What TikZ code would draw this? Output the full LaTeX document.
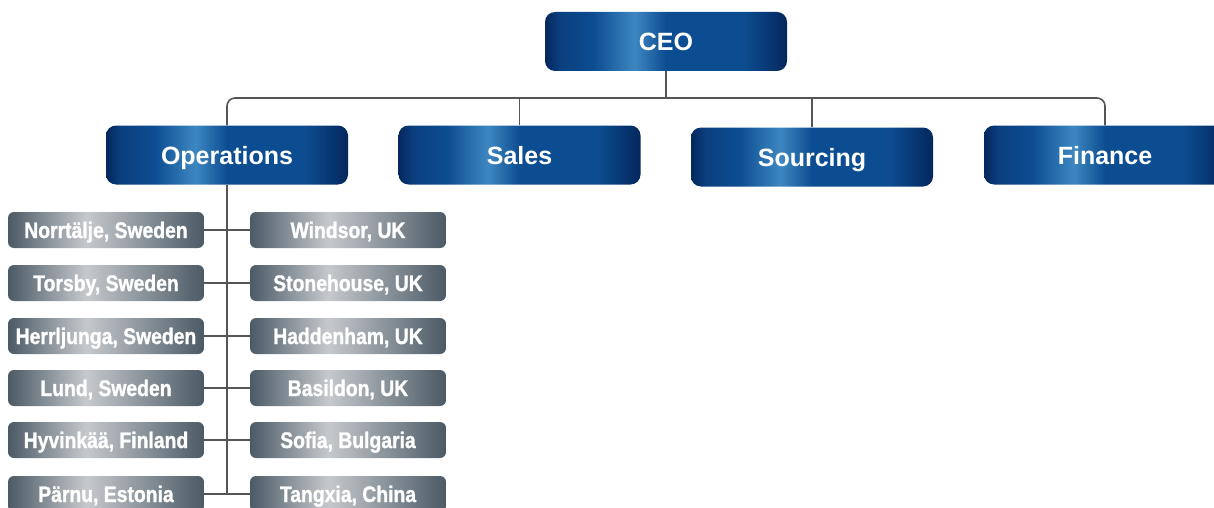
\documentclass[tikz,border=0pt]{standalone}
\usepackage{fontspec}
\setmainfont{Liberation Sans}
\newfontfamily\narrowfont[FakeStretch=0.86, FakeBold=1.2]{Liberation Sans Bold}
\usepackage{tikz}
\usetikzlibrary{positioning}

\definecolor{navyA}{HTML}{04275D}
\definecolor{navyB}{HTML}{0B3F7F}
\definecolor{navyC}{HTML}{3D87C1}
\definecolor{navyD}{HTML}{0C4D91}
\definecolor{slateA}{HTML}{4B5A66}
\definecolor{slateB}{HTML}{C6C9CC}
\definecolor{wire}{HTML}{555555}

% the box is mapped on 25bp..75bp of the shading
\pgfdeclarehorizontalshading{blueband}{100bp}{color(0bp)=(navyA); color(25bp)=(navyA);
  color(28bp)=(navyB); color(35bp)=(navyD); color(43.5bp)=(navyC); color(50bp)=(navyD);
  color(66bp)=(navyD); color(75bp)=(navyA); color(100bp)=(navyA)}
\pgfdeclarehorizontalshading{greyband}{100bp}{color(0bp)=(slateA); color(25bp)=(slateA);
  color(45bp)=(slateB); color(75bp)=(slateA); color(100bp)=(slateA)}

\begin{document}
\begin{tikzpicture}
  [x=1pt, y=-1pt,
   dept/.style={rectangle, rounded corners=10pt, shading=blueband, minimum width=242pt,
     minimum height=59pt, inner sep=0pt, text height=18pt, text depth=0pt, text=white,
     font=\bfseries\fontsize{25}{25}\selectfont},
   site/.style={rectangle, rounded corners=6pt, shading=greyband, minimum width=196pt,
     minimum height=36pt, inner sep=0pt, text height=16pt, text depth=0pt, text=white,
     font=\narrowfont\fontsize{22.5}{22.5}\selectfont},
   wireline/.style={draw=wire, line width=1.6pt}]
  \useasboundingbox (0,0) rectangle (1214,508);

  \node (ceo) at (666, 41.5) [dept] {CEO};
  \node (ops) at (227, 155) [dept] {Operations};
  \node (sales) at (519.5, 155) [dept] {Sales};
  \node (src) at (812, 157) [dept] {Sourcing};
  \node (fin) at (1105, 155) [dept] {Finance};
  \coordinate (bus) at (666, 98);

  \draw [wireline] (ceo.south) to (ceo.south |- bus);
  \draw [wireline, rounded corners=8pt] (ops.north) |- (fin.north |- bus) to (fin.north);
  \draw [wireline] (sales.north) to (sales.north |- bus);
  \draw [wireline] (src.north) to (src.north |- bus);

  \foreach \i/\y/\a/\b in {1/230/{Norrtälje, Sweden}/{Windsor, UK},
      2/283/{Torsby, Sweden}/{Stonehouse, UK},
      3/336/{Herrljunga, Sweden}/{Haddenham, UK},
      4/388/{Lund, Sweden}/{Basildon, UK},
      5/440/{Hyvinkää, Finland}/{Sofia, Bulgaria},
      6/494/{Pärnu, Estonia}/{Tangxia, China}}{
    \node (l\i) at (106, \y) [site] {\a};
    \node (r\i) at (348, \y) [site] {\b};
    \draw [wireline] (l\i.east) to (r\i.west);
  }
  \draw [wireline] (ops.south) to (ops.south |- l6.east);
\end{tikzpicture}
\end{document}
